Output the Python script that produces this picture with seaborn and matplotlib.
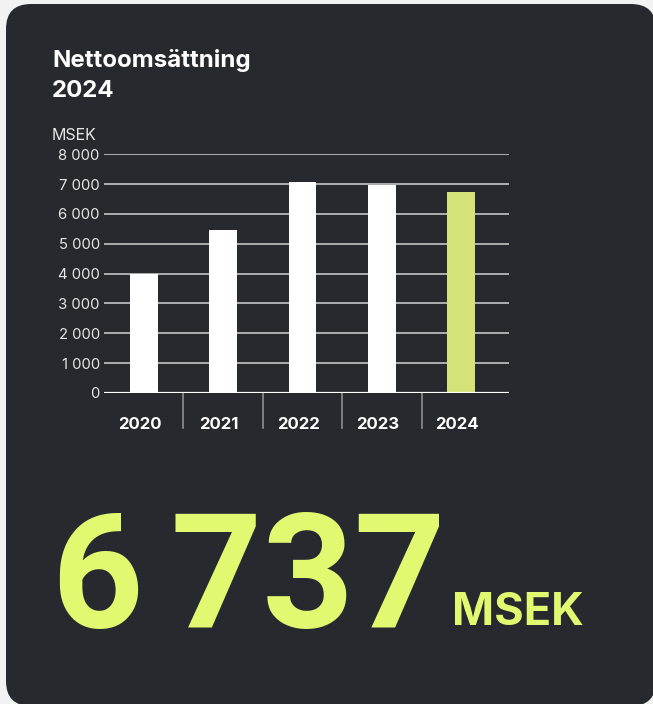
import matplotlib
matplotlib.use("Agg")
import matplotlib.pyplot as plt
import matplotlib.transforms as mtransforms
from matplotlib.patches import FancyBboxPatch
import seaborn as sns

# Data (MSEK)
years = ["2020", "2021", "2022", "2023", "2024"]
net_sales = [3990, 5450, 7060, 6970, 6737]
y_ticks = [0, 1000, 2000, 3000, 4000, 5000, 6000, 7000, 8000]
title_lines = ["Nettoomsättning", "2024"]
unit = "MSEK"

# Colours
OUTER_BG = "#f2f2f2"
CARD_BG = "#262a2f"
BAR_WHITE = "#ffffff"
BAR_HIGHLIGHT = "#d5e277"
BIG_GREEN = "#e0f970"
GRID = "#c4c4c4"
FONT = ["Inter", "DejaVu Sans"]

W, H = 653, 704
fig = plt.figure(figsize=(W / 100, H / 100), dpi=100)
fig.patch.set_facecolor(OUTER_BG)

# Card background (pixel coords, bottom-left origin)
card = FancyBboxPatch((6 + 25, -2 + 25), 650 - 50, 702 - 50,
                      boxstyle="round,pad=25", transform=None,
                      facecolor=CARD_BG, edgecolor="none", zorder=-5)
fig.patches.append(card)

# Axes placement: zero line at y=393 px, 8000 at y=154 px, x from 104 to 509 px
ax = fig.add_axes([104 / W, (H - 393) / H, (509 - 104) / W, 239 / H])
ax.set_facecolor("none")
ax.set_zorder(2)

palette = {y: BAR_WHITE for y in years}
palette[years[-1]] = BAR_HIGHLIGHT
sns.barplot(x=years, y=net_sales, hue=years, palette=palette, width=0.35,
            saturation=1, legend=False, linewidth=0, ax=ax, zorder=3)

ax.set_xlim(-0.5, 4.6)
ax.set_ylim(0, 8010)
ax.set_yticks(y_ticks)
ax.set_yticklabels([f"{v:,}".replace(",", " ") for v in y_ticks])
ax.grid(axis="y", color=GRID, lw=1.2)
ax.grid(axis="x", visible=False)
ax.set_axisbelow(True)
ax.axhline(0, color="white", lw=1.6, zorder=4)
for s in ax.spines.values():
    s.set_visible(False)

ax.tick_params(axis="y", length=0, pad=3, labelsize=10.7, labelcolor="#e6e6e6")
ax.tick_params(axis="x", length=0, pad=17.5, labelsize=12, labelcolor="white")
shift = mtransforms.ScaledTranslation(-4 / 100, 0, fig.dpi_scale_trans)
for lbl in ax.get_xticklabels():
    lbl.set_fontweight("bold")
    lbl.set_transform(lbl.get_transform() + shift)
ax.set_xlabel("")
ax.set_ylabel("")

# category separators below the axis
for i in range(len(years) - 1):
    ax.plot([i + 0.5, i + 0.5], [0, -0.146], transform=ax.get_xaxis_transform(),
            color="#8e8e8e", lw=1.2, clip_on=False, zorder=2)

for lbl in ax.get_xticklabels() + ax.get_yticklabels():
    lbl.set_family(FONT)

# Texts
fig.text(52 / W, (H - 67) / H, title_lines[0], fontsize=17.3, fontweight="bold",
         color="white", va="baseline", ha="left", family=FONT)
fig.text(52 / W, (H - 97) / H, title_lines[1], fontsize=17.3, fontweight="bold",
         color="white", va="baseline", ha="left", family=FONT)
fig.text(52 / W, (H - 140) / H, unit, fontsize=11.5, color="#e6e6e6",
         va="baseline", ha="left", family=FONT)

# headline value, thousands separated by a narrow space
big_value = f"{net_sales[-1]:,}".replace(",", "\u2006")
fig.text(52 / W, (H - 627) / H, big_value, fontsize=115, fontweight="bold",
         family=["Roboto", "DejaVu Sans"], color=BIG_GREEN,
         va="baseline", ha="left")
fig.text(452 / W, (H - 625) / H, unit, fontsize=32.5, fontweight="bold",
         color=BIG_GREEN, va="baseline", ha="left", family=FONT)

fig.savefig("out.png", dpi=100, facecolor=fig.get_facecolor())
